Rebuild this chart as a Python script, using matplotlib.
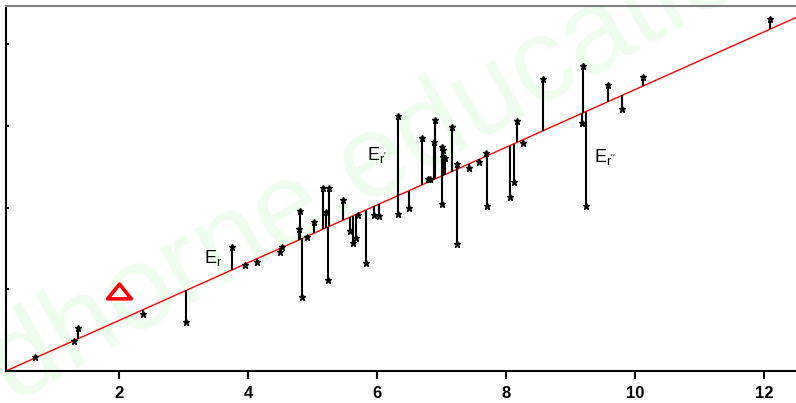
import numpy as np
import matplotlib
matplotlib.use("Agg")
import matplotlib.pyplot as plt
from matplotlib.path import Path

plt.rcParams['font.family'] = ['Liberation Sans', 'DejaVu Sans']
plt.rcParams['mathtext.default'] = 'regular'

x_pts = [0.70, 1.30, 1.36, 2.37, 3.04, 3.75, 3.95, 4.14, 4.53, 4.50,
         4.81, 4.79, 4.84, 4.91, 5.02, 5.16, 5.26, 5.21, 5.24, 5.47,
         5.58, 5.63, 5.67, 5.71, 5.83, 5.95, 6.03, 6.33, 6.33, 6.50,
         6.70, 6.79, 6.82, 6.90, 6.88, 7.01, 7.02, 7.02, 7.05, 7.01,
         7.16, 7.24, 7.24, 7.43, 7.58, 7.69, 7.71, 8.06, 8.12, 8.17,
         8.26, 8.57, 9.19, 9.18, 9.24, 9.58, 9.80, 10.12, 12.09]
y_pts = [0.17, 0.37, 0.53, 0.70, 0.60, 1.52, 1.30, 1.33, 1.52, 1.46,
         1.96, 1.74, 0.91, 1.64, 1.82, 2.24, 2.24, 1.95, 1.11, 2.09,
         1.71, 1.57, 1.63, 1.91, 1.32, 1.91, 1.90, 3.12, 1.92, 2.00,
         2.85, 2.35, 2.35, 3.08, 2.80, 2.74, 2.71, 2.62, 2.61, 2.04,
         2.99, 2.53, 1.55, 2.49, 2.56, 2.67, 2.02, 2.13, 2.31, 3.06,
         2.79, 3.57, 3.73, 3.04, 2.02, 3.50, 3.21, 3.60, 4.31]

# regression line y = a*x + b
slope = 0.3534
intercept = -0.0877

# annotations
labels = [r'E$_r$', r"E$_{r'}$", r"E$_{r''}$"]
label_x = [3.32, 5.84, 9.36]
label_y = [1.38, 2.64, 2.62]
delta_x = 2.0
delta_y = 0.985

x_ticks = [2, 4, 6, 8, 10, 12]
y_ticks = [1, 2, 3, 4]

fig = plt.figure(figsize=(7.96, 4.03), dpi=100)
ax = fig.add_axes([6 / 796, 32 / 403, 790 / 796, 365 / 403])
ax.set_xlim(0.248, 12.496)
ax.set_ylim(0, 4.47)

x_arr = np.array(x_pts)
y_arr = np.array(y_pts)
fit_y = slope * x_arr + intercept

# watermark
ax.text(0.35, -0.38, 'dhorne.education', fontsize=85, color='#edfeed',
        rotation=29.5, ha='left', va='baseline', zorder=0,
        rotation_mode='anchor')

xl = np.array(ax.get_xlim())
ax.plot(xl, slope * xl + intercept, color='red', lw=1.0, zorder=2)
ax.vlines(x_arr, fit_y, y_arr, color='black', lw=1.5, zorder=3)
ax.plot(x_arr, y_arr, linestyle='none', marker='*', ms=5, color='black', zorder=4)

for t, lx, ly in zip(labels, label_x, label_y):
    ax.text(lx, ly, t, fontsize=13, ha='left', va='center', zorder=5)

# wide hollow triangle (delta sign)
tri = Path([(-1, -0.62), (1, -0.62), (0, 0.62), (-1, -0.62)],
           [Path.MOVETO, Path.LINETO, Path.LINETO, Path.CLOSEPOLY])
ax.plot([delta_x], [delta_y], linestyle='none', marker=tri, ms=17,
        mfc='white', mec='red', mew=2.6, zorder=5)

ax.set_xticks(x_ticks)
ax.set_xticklabels([str(v) for v in x_ticks], fontsize=12, fontweight='bold')
ax.set_yticks(y_ticks)
ax.set_yticklabels([])
ax.tick_params(axis='x', direction='out', length=6, width=1.5, pad=5)
ax.tick_params(axis='y', direction='in', length=2, width=1.5)

ax.spines['right'].set_visible(False)
ax.spines['top'].set_color('#808080')
ax.spines['top'].set_linewidth(1.5)
ax.spines['left'].set_linewidth(1.5)
ax.spines['bottom'].set_linewidth(1.5)

fig.savefig('out.png', dpi=100)
